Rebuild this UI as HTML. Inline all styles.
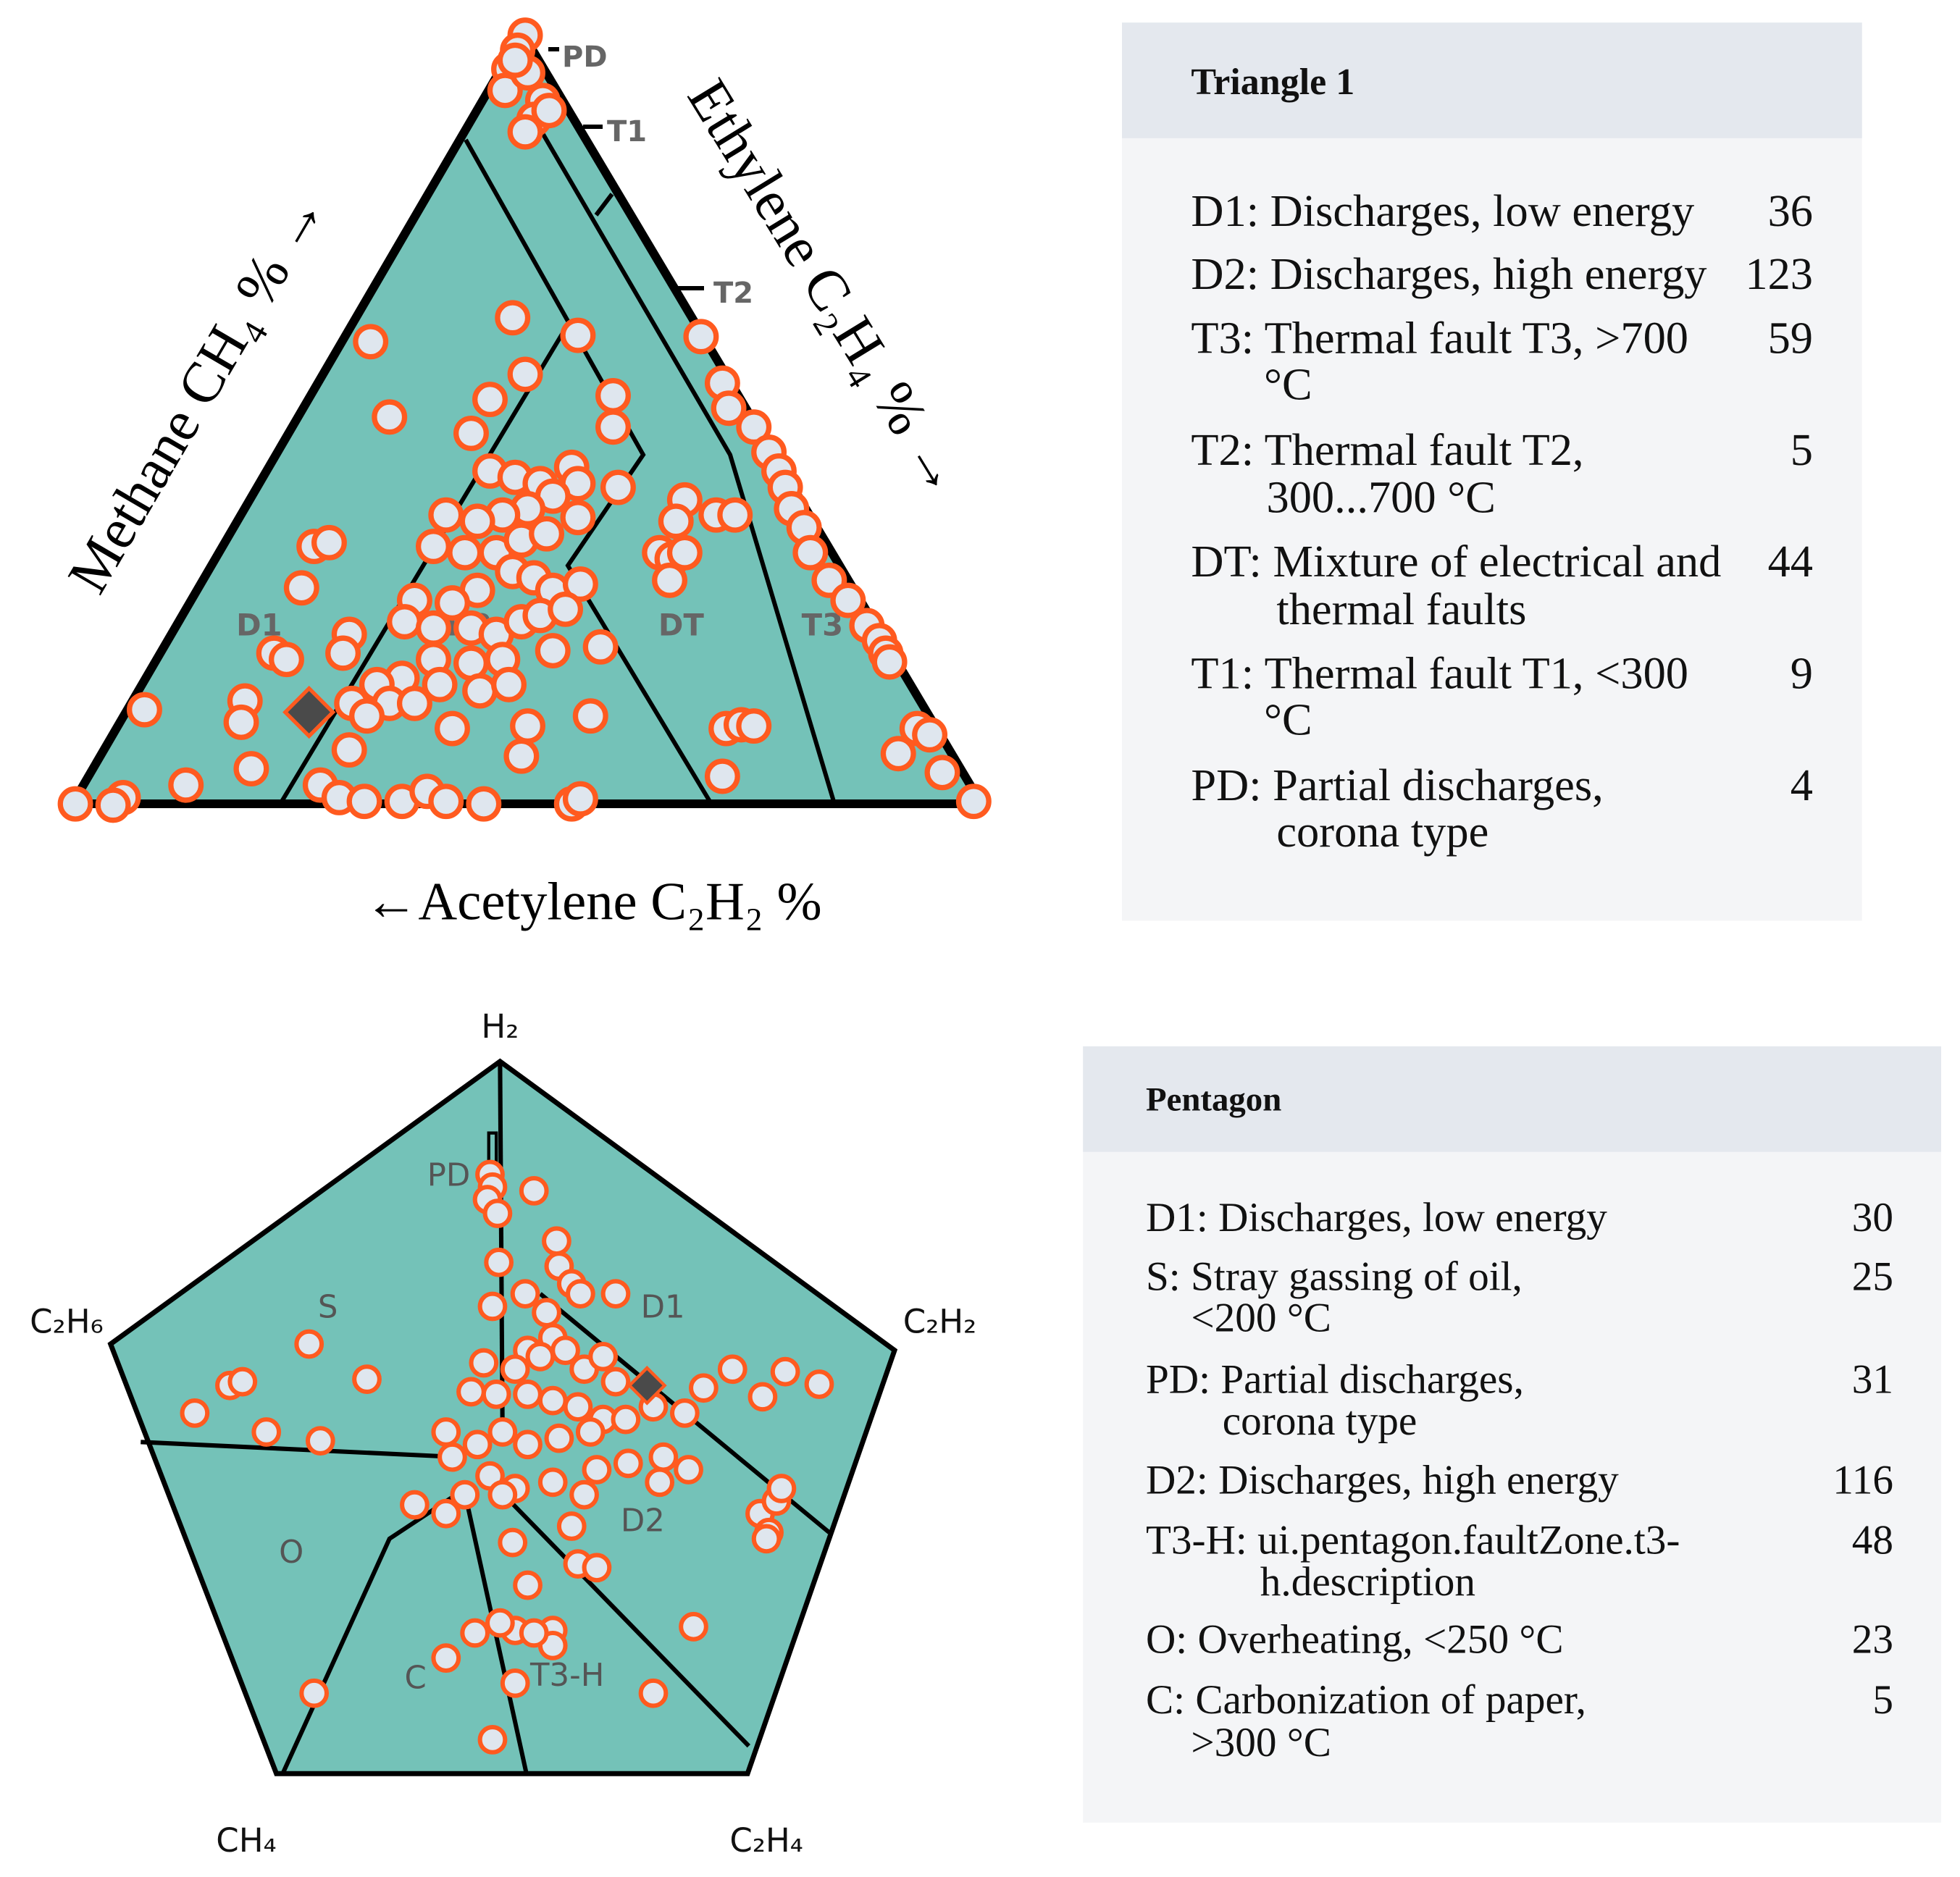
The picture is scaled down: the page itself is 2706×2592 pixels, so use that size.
<!DOCTYPE html>
<html><head><meta charset="utf-8"><style>
html,body{margin:0;padding:0;background:#fff;}
svg{display:block;}
.d{fill:#dfe6ee;stroke:#ff5a1f;stroke-width:4.5;}
.p{fill:#dfe6ee;stroke:#ff5a1f;stroke-width:3.5;}
.serif{font-family:"Liberation Serif",serif;}
.sans{font-family:"DejaVu Sans","Liberation Sans",sans-serif;}
</style></head><body>
<svg width="2706" height="2592" viewBox="0 0 2706 2592" xmlns="http://www.w3.org/2000/svg">
<polygon points="721,45 100,1110 1355,1110" fill="#74c2b8" stroke="#000" stroke-width="12" stroke-linejoin="miter"/>
<g stroke="#000" stroke-width="6" fill="none">
<polyline points="643,193 888,628 784,781 982,1110"/>
<line x1="784" y1="448" x2="387" y2="1110"/>
<polyline points="738,165 1008,628 1152,1110"/>
<line x1="845" y1="268" x2="823" y2="297"/>
<line x1="757" y1="68" x2="772" y2="68"/>
<line x1="805" y1="175" x2="832" y2="175"/>
<line x1="935" y1="398" x2="972" y2="398"/>
</g>
<g class="sans" font-weight="bold" fill="#666" font-size="40">
<text x="776" y="92">PD</text>
<text x="838" y="195">T1</text>
<text x="985" y="418">T2</text>
</g>
<g transform="scale(1.7346)">
<g class="sans" font-weight="bold" fill="#666" font-size="24">
<text x="188" y="506">D1</text>
<text x="355" y="506">D2</text>
<text x="524" y="506">DT</text>
<text x="638" y="506">T3</text>
</g>
<g class="d" style="stroke-width:4.2">
<circle cx="418" cy="28" r="12"/><circle cx="412" cy="40" r="12"/><circle cx="405" cy="55" r="12"/><circle cx="402" cy="72" r="12"/><circle cx="420" cy="58" r="12"/><circle cx="432" cy="80" r="12"/><circle cx="425" cy="95" r="12"/><circle cx="418" cy="105" r="12"/><circle cx="437" cy="88" r="12"/><circle cx="410" cy="48" r="12"/>
<circle cx="295" cy="272" r="12"/><circle cx="310" cy="332" r="12"/><circle cx="408" cy="253" r="12"/><circle cx="460" cy="267" r="12"/><circle cx="418" cy="298" r="12"/><circle cx="390" cy="318" r="12"/><circle cx="375" cy="345" r="12"/><circle cx="488" cy="315" r="12"/><circle cx="488" cy="340" r="12"/><circle cx="250" cy="435" r="12"/><circle cx="262" cy="432" r="12"/><circle cx="240" cy="468" r="12"/><circle cx="218" cy="520" r="12"/><circle cx="228" cy="525" r="12"/><circle cx="278" cy="505" r="12"/><circle cx="273" cy="520" r="12"/><circle cx="115" cy="565" r="12"/><circle cx="195" cy="558" r="12"/><circle cx="192" cy="575" r="12"/><circle cx="200" cy="612" r="12"/><circle cx="148" cy="625" r="12"/><circle cx="98" cy="635" r="12"/><circle cx="60" cy="640" r="12"/><circle cx="90" cy="641" r="12"/>
<circle cx="390" cy="375" r="12"/><circle cx="410" cy="380" r="12"/><circle cx="430" cy="385" r="12"/><circle cx="455" cy="372" r="12"/><circle cx="460" cy="385" r="12"/><circle cx="440" cy="395" r="12"/><circle cx="420" cy="405" r="12"/><circle cx="400" cy="410" r="12"/><circle cx="380" cy="415" r="12"/><circle cx="355" cy="410" r="12"/><circle cx="345" cy="435" r="12"/><circle cx="370" cy="440" r="12"/><circle cx="395" cy="440" r="12"/><circle cx="415" cy="430" r="12"/><circle cx="435" cy="425" r="12"/><circle cx="460" cy="412" r="12"/><circle cx="492" cy="388" r="12"/><circle cx="408" cy="455" r="12"/><circle cx="425" cy="460" r="12"/><circle cx="440" cy="470" r="12"/><circle cx="462" cy="465" r="12"/><circle cx="380" cy="470" r="12"/><circle cx="360" cy="480" r="12"/><circle cx="330" cy="478" r="12"/><circle cx="322" cy="495" r="12"/><circle cx="345" cy="500" r="12"/><circle cx="375" cy="500" r="12"/><circle cx="395" cy="505" r="12"/><circle cx="415" cy="495" r="12"/><circle cx="430" cy="490" r="12"/><circle cx="450" cy="485" r="12"/><circle cx="478" cy="515" r="12"/><circle cx="440" cy="518" r="12"/><circle cx="400" cy="525" r="12"/><circle cx="375" cy="528" r="12"/><circle cx="345" cy="525" r="12"/><circle cx="320" cy="540" r="12"/><circle cx="300" cy="545" r="12"/><circle cx="310" cy="560" r="12"/><circle cx="330" cy="560" r="12"/><circle cx="350" cy="545" r="12"/><circle cx="382" cy="550" r="12"/><circle cx="405" cy="545" r="12"/><circle cx="360" cy="580" r="12"/><circle cx="280" cy="560" r="12"/><circle cx="292" cy="570" r="12"/><circle cx="420" cy="578" r="12"/><circle cx="470" cy="570" r="12"/><circle cx="415" cy="602" r="12"/><circle cx="278" cy="597" r="12"/><circle cx="255" cy="625" r="12"/><circle cx="270" cy="635" r="12"/><circle cx="290" cy="638" r="12"/><circle cx="320" cy="638" r="12"/><circle cx="340" cy="630" r="12"/><circle cx="355" cy="638" r="12"/><circle cx="385" cy="640" r="12"/><circle cx="455" cy="640" r="12"/><circle cx="462" cy="636" r="12"/>
<circle cx="545" cy="398" r="12"/><circle cx="538" cy="415" r="12"/><circle cx="525" cy="440" r="12"/><circle cx="535" cy="445" r="12"/><circle cx="545" cy="440" r="12"/><circle cx="533" cy="462" r="12"/><circle cx="570" cy="410" r="12"/><circle cx="585" cy="410" r="12"/><circle cx="578" cy="580" r="12"/><circle cx="590" cy="577" r="12"/><circle cx="600" cy="578" r="12"/><circle cx="575" cy="618" r="12"/>
<circle cx="558" cy="268" r="12"/><circle cx="575" cy="305" r="12"/><circle cx="580" cy="325" r="12"/><circle cx="600" cy="340" r="12"/><circle cx="612" cy="360" r="12"/><circle cx="620" cy="375" r="12"/><circle cx="625" cy="388" r="12"/><circle cx="630" cy="405" r="12"/><circle cx="640" cy="420" r="12"/><circle cx="645" cy="440" r="12"/><circle cx="660" cy="462" r="12"/><circle cx="675" cy="478" r="12"/><circle cx="690" cy="498" r="12"/><circle cx="700" cy="510" r="12"/><circle cx="705" cy="520" r="12"/><circle cx="708" cy="527" r="12"/><circle cx="730" cy="580" r="12"/><circle cx="740" cy="585" r="12"/><circle cx="715" cy="600" r="12"/><circle cx="750" cy="615" r="12"/><circle cx="775" cy="638" r="12"/>
</g>
<polygon points="246,548 265,567 246,586 227,567" fill="#4a4a4a" stroke="#ff5a1f" stroke-width="3"/>
<g class="serif" font-size="46" fill="#000">
<text transform="translate(170,320) rotate(-59.7)" text-anchor="middle">Methane CH₄ % →</text>
<text transform="translate(645,237) rotate(58.5)" text-anchor="middle">Ethylene C₂H₄ % →</text>
<text x="472" y="732" text-anchor="middle" font-size="43">←Acetylene C₂H₂ %</text>
</g>
<rect x="893" y="18" width="589" height="715" fill="#f4f5f7"/>
<rect x="893" y="18" width="589" height="92" fill="#e4e8ee"/>
<g class="serif" fill="#111">
<text x="948" y="75" font-size="30" font-weight="bold">Triangle 1</text>
<g font-size="36">
<text x="948" y="180">D1: Discharges, low energy</text><text x="1443" y="180" text-anchor="end">36</text>
<text x="948" y="230">D2: Discharges, high energy</text><text x="1443" y="230" text-anchor="end">123</text>
<text x="948" y="281">T3: Thermal fault T3, &gt;700</text><text x="1443" y="281" text-anchor="end">59</text>
<text x="1006" y="318">°C</text>
<text x="948" y="370">T2: Thermal fault T2,</text><text x="1443" y="370" text-anchor="end">5</text>
<text x="1008" y="408">300...700 °C</text>
<text x="948" y="459">DT: Mixture of electrical and</text><text x="1443" y="459" text-anchor="end">44</text>
<text x="1016" y="497">thermal faults</text>
<text x="948" y="548">T1: Thermal fault T1, &lt;300</text><text x="1443" y="548" text-anchor="end">9</text>
<text x="1006" y="585">°C</text>
<text x="948" y="637">PD: Partial discharges,</text><text x="1443" y="637" text-anchor="end">4</text>
<text x="1016" y="674">corona type</text>
</g></g>
<polygon points="398,845 712,1075 595,1412 220,1412 88,1070" fill="#74c2b8" stroke="#000" stroke-width="4"/>
<g stroke="#000" stroke-width="3.5" fill="none">
<line x1="398" y1="845" x2="400" y2="1145"/>
<rect x="389" y="902" width="6" height="30" stroke-width="2.5"/>
<line x1="112" y1="1148" x2="365" y2="1160"/>
<line x1="430" y1="1030" x2="660" y2="1220"/>
<polyline points="372,1184 310,1225 225,1412"/>
<line x1="369" y1="1184" x2="419" y2="1412"/>
<line x1="400" y1="1189" x2="596" y2="1390"/>
</g>
<g class="sans" fill="#555" font-size="25">
<text x="253" y="1049">S</text>
<text x="340" y="944">PD</text>
<text x="510" y="1049">D1</text>
<text x="494" y="1219">D2</text>
<text x="222" y="1244">O</text>
<text x="322" y="1344">C</text>
<text x="422" y="1342">T3-H</text>
</g>
<g class="sans" fill="#111" font-size="26">
<text x="398" y="826" text-anchor="middle">H₂</text>
<text x="53" y="1061" text-anchor="middle">C₂H₆</text>
<text x="748" y="1061" text-anchor="middle">C₂H₂</text>
<text x="196" y="1474" text-anchor="middle">CH₄</text>
<text x="610" y="1474" text-anchor="middle">C₂H₄</text>
</g>
<g class="p">
<circle cx="390" cy="935" r="10"/><circle cx="392" cy="945" r="10"/><circle cx="388" cy="955" r="10"/><circle cx="396" cy="966" r="10"/><circle cx="425" cy="948" r="10"/><circle cx="397" cy="1005" r="10"/><circle cx="443" cy="988" r="10"/><circle cx="445" cy="1008" r="10"/><circle cx="455" cy="1022" r="10"/><circle cx="462" cy="1030" r="10"/><circle cx="490" cy="1030" r="10"/><circle cx="418" cy="1030" r="10"/><circle cx="435" cy="1045" r="10"/><circle cx="440" cy="1065" r="10"/><circle cx="392" cy="1040" r="10"/><circle cx="420" cy="1075" r="10"/><circle cx="410" cy="1090" r="10"/><circle cx="430" cy="1080" r="10"/><circle cx="450" cy="1075" r="10"/><circle cx="465" cy="1090" r="10"/><circle cx="480" cy="1080" r="10"/><circle cx="490" cy="1100" r="10"/><circle cx="385" cy="1085" r="10"/><circle cx="375" cy="1108" r="10"/><circle cx="395" cy="1110" r="10"/><circle cx="420" cy="1110" r="10"/><circle cx="440" cy="1115" r="10"/><circle cx="460" cy="1120" r="10"/><circle cx="480" cy="1130" r="10"/><circle cx="355" cy="1140" r="10"/><circle cx="380" cy="1150" r="10"/><circle cx="400" cy="1140" r="10"/><circle cx="420" cy="1150" r="10"/><circle cx="445" cy="1145" r="10"/><circle cx="470" cy="1140" r="10"/><circle cx="498" cy="1130" r="10"/><circle cx="520" cy="1120" r="10"/><circle cx="545" cy="1125" r="10"/><circle cx="560" cy="1105" r="10"/><circle cx="583" cy="1090" r="10"/><circle cx="607" cy="1112" r="10"/><circle cx="625" cy="1092" r="10"/><circle cx="652" cy="1102" r="10"/><circle cx="528" cy="1160" r="10"/><circle cx="548" cy="1170" r="10"/><circle cx="525" cy="1180" r="10"/><circle cx="500" cy="1165" r="10"/><circle cx="475" cy="1170" r="10"/><circle cx="465" cy="1190" r="10"/><circle cx="440" cy="1180" r="10"/><circle cx="410" cy="1185" r="10"/><circle cx="390" cy="1175" r="10"/><circle cx="360" cy="1160" r="10"/><circle cx="370" cy="1190" r="10"/><circle cx="330" cy="1198" r="10"/><circle cx="355" cy="1205" r="10"/><circle cx="400" cy="1190" r="10"/><circle cx="455" cy="1215" r="10"/><circle cx="460" cy="1245" r="10"/><circle cx="475" cy="1248" r="10"/><circle cx="408" cy="1228" r="10"/><circle cx="420" cy="1262" r="10"/><circle cx="410" cy="1298" r="10"/><circle cx="440" cy="1298" r="10"/><circle cx="440" cy="1310" r="10"/><circle cx="425" cy="1300" r="10"/><circle cx="378" cy="1300" r="10"/><circle cx="398" cy="1292" r="10"/><circle cx="355" cy="1320" r="10"/><circle cx="410" cy="1340" r="10"/><circle cx="392" cy="1385" r="10"/><circle cx="520" cy="1348" r="10"/><circle cx="552" cy="1295" r="10"/><circle cx="250" cy="1348" r="10"/><circle cx="155" cy="1125" r="10"/><circle cx="183" cy="1103" r="10"/><circle cx="193" cy="1100" r="10"/><circle cx="212" cy="1140" r="10"/><circle cx="255" cy="1147" r="10"/><circle cx="246" cy="1070" r="10"/><circle cx="292" cy="1098" r="10"/><circle cx="605" cy="1205" r="10"/><circle cx="612" cy="1220" r="10"/><circle cx="618" cy="1195" r="10"/><circle cx="622" cy="1185" r="10"/><circle cx="610" cy="1225" r="10"/>
</g>
<polygon points="515,1089 529,1103 515,1117 501,1103" fill="#4a4a4a" stroke="#ff5a1f" stroke-width="2.5"/>
<rect x="862" y="833" width="683" height="618" fill="#f4f5f7"/>
<rect x="862" y="833" width="683" height="84" fill="#e4e8ee"/>
<g class="serif" fill="#111">
<text x="912" y="884" font-size="27" font-weight="bold">Pentagon</text>
<g font-size="33">
<text x="912" y="980">D1: Discharges, low energy</text><text x="1507" y="980" text-anchor="end">30</text>
<text x="912" y="1027">S: Stray gassing of oil,</text><text x="1507" y="1027" text-anchor="end">25</text>
<text x="948" y="1060">&lt;200 °C</text>
<text x="912" y="1109">PD: Partial discharges,</text><text x="1507" y="1109" text-anchor="end">31</text>
<text x="973" y="1142">corona type</text>
<text x="912" y="1189">D2: Discharges, high energy</text><text x="1507" y="1189" text-anchor="end">116</text>
<text x="912" y="1237">T3-H: ui.pentagon.faultZone.t3-</text><text x="1507" y="1237" text-anchor="end">48</text>
<text x="1003" y="1270">h.description</text>
<text x="912" y="1316">O: Overheating, &lt;250 °C</text><text x="1507" y="1316" text-anchor="end">23</text>
<text x="912" y="1364">C: Carbonization of paper,</text><text x="1507" y="1364" text-anchor="end">5</text>
<text x="948" y="1398">&gt;300 °C</text>
</g></g>
</g>
</svg>
</body></html>
